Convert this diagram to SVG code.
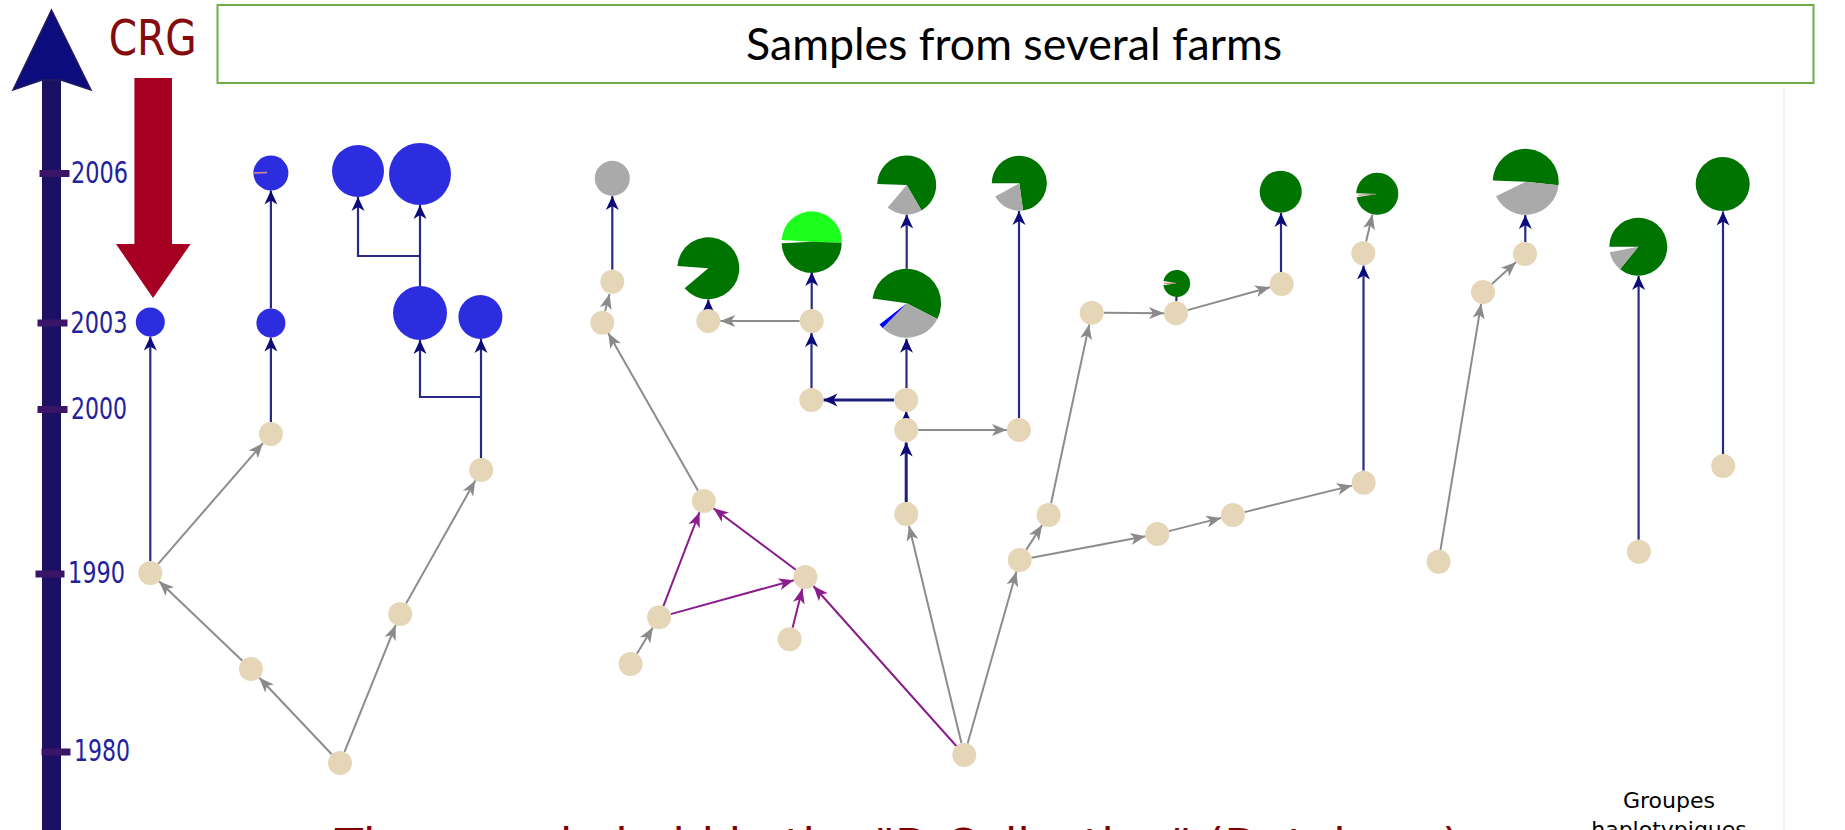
<svg xmlns="http://www.w3.org/2000/svg" width="1845" height="830" viewBox="0 0 1845 830">
<style>
.nb{fill:#e6d6b8}
.bl{fill:#2d2de0}
.gr{fill:#007400}
.gy{fill:#aaaaaa}
.lg{fill:#1cff1c}
.en{stroke:#2a2a86;stroke-width:2.2;fill:none;marker-end:url(#mn)}
.en0{stroke:#2a2a86;stroke-width:2.2;fill:none}
.enb{stroke:#1e1e80;stroke-width:3;fill:none;marker-end:url(#mn)}
.eg{stroke:#8c8c8c;stroke-width:2;fill:none;marker-end:url(#mg)}
.ep{stroke:#8a1c8c;stroke-width:2;fill:none;marker-end:url(#mp)}
.yr{font-family:"DejaVu Sans Condensed","DejaVu Sans",sans-serif;font-size:30px;fill:#22229c}
.tk{fill:#3a1468}
.cm{font-family:"Comic Sans MS","DejaVu Sans",sans-serif}
</style>
<defs>
<marker id="mn" markerUnits="userSpaceOnUse" markerWidth="18" markerHeight="16" viewBox="-16 -8 18 16" refX="0" refY="0" orient="auto"><path d="M0,0 L-14,-6.5 L-10,0 L-14,6.5 Z" fill="#0a0a7a"/></marker>
<marker id="mg" markerUnits="userSpaceOnUse" markerWidth="18" markerHeight="16" viewBox="-16 -8 18 16" refX="0" refY="0" orient="auto"><path d="M0,0 L-15,-6 L-11,0 L-15,6 Z" fill="#8a8a8a"/></marker>
<marker id="mp" markerUnits="userSpaceOnUse" markerWidth="18" markerHeight="16" viewBox="-16 -8 18 16" refX="0" refY="0" orient="auto"><path d="M0,0 L-15,-6 L-11,0 L-15,6 Z" fill="#8a1c8c"/></marker>
</defs>
<rect width="1845" height="830" fill="#ffffff"/>
<line x1="1784" y1="88" x2="1784" y2="830" stroke="#efefef" stroke-width="1.5"/>

<g id="time-axis">
<rect x="42" y="78" width="19" height="752" fill="#1b1062"/>
<polygon points="51.5,10 91,90 61,80 42,80 13,90" fill="#0c0c7c" stroke="#241a5e" stroke-width="1.5"/>
<rect class="tk" x="39.5" y="170" width="30" height="7"/>
<rect class="tk" x="37.5" y="319.5" width="30" height="7"/>
<rect class="tk" x="37.5" y="406" width="30" height="7"/>
<rect class="tk" x="35.5" y="570.5" width="29" height="7"/>
<rect class="tk" x="41.5" y="748.5" width="29" height="7"/>
<text class="yr" x="71" y="183" textLength="57" lengthAdjust="spacingAndGlyphs">2006</text>
<text class="yr" x="70.5" y="333" textLength="57" lengthAdjust="spacingAndGlyphs">2003</text>
<text class="yr" x="71" y="419" textLength="56" lengthAdjust="spacingAndGlyphs">2000</text>
<text class="yr" x="68" y="583" textLength="57" lengthAdjust="spacingAndGlyphs">1990</text>
<text class="yr" x="74" y="760.5" textLength="56" lengthAdjust="spacingAndGlyphs">1980</text>
</g>

<g id="crg">
<text class="cm" x="108.7" y="55" font-size="50" fill="#850c0c" textLength="88" lengthAdjust="spacingAndGlyphs">CRG</text>
<polygon points="134.4,78 172,78 172,244 190.6,244 153,298 116,244 134.4,244" fill="#a50021"/>
</g>

<g id="header">
<rect x="217.5" y="5" width="1596" height="78" fill="#ffffff" stroke="#70ad47" stroke-width="2"/>
<text x="746" y="60" font-family="Lato, 'Open Sans', sans-serif" font-size="45" fill="#000000" textLength="536" lengthAdjust="spacingAndGlyphs">Samples from several farms</text>
</g>

<g id="connectors">
<line class="eg" x1="331.7" y1="754.3" x2="259.3" y2="677.7"/>
<line class="eg" x1="242.3" y1="660.7" x2="159" y2="581.3"/>
<line class="eg" x1="158.2" y1="563.9" x2="263" y2="443.1"/>
<line class="eg" x1="344.5" y1="751.9" x2="395.7" y2="625.1"/>
<line class="eg" x1="406.1" y1="603.5" x2="475.3" y2="480.5"/>
<line class="eg" x1="636.9" y1="653.8" x2="652.8" y2="627.5"/>
<line class="eg" x1="697.9" y1="490.6" x2="608.2" y2="333.1"/>
<line class="eg" x1="605.1" y1="311" x2="609.5" y2="294"/>
<line class="eg" x1="799.7" y1="321" x2="720.3" y2="321"/>
<line class="eg" x1="918.2" y1="430" x2="1006.9" y2="430"/>
<line class="eg" x1="961.5" y1="743.3" x2="909" y2="525.7"/>
<line class="eg" x1="967.6" y1="743.5" x2="1016.4" y2="571.5"/>
<line class="eg" x1="1026.2" y1="549.9" x2="1042.1" y2="525.1"/>
<line class="eg" x1="1031.5" y1="557.8" x2="1145.5" y2="536.2"/>
<line class="eg" x1="1051.1" y1="503.3" x2="1089.2" y2="324.4"/>
<line class="eg" x1="1103.7" y1="312.8" x2="1164" y2="313.2"/>
<line class="eg" x1="1187.6" y1="310.1" x2="1270.1" y2="287.2"/>
<line class="eg" x1="1168.9" y1="531.1" x2="1221.3" y2="517.9"/>
<line class="eg" x1="1244.6" y1="512.1" x2="1352" y2="485.6"/>
<line class="eg" x1="1366.1" y1="241.6" x2="1372.5" y2="214.5"/>
<line class="eg" x1="1491.9" y1="283.9" x2="1516.1" y2="262.1"/>
<line class="eg" x1="1440.5" y1="549.9" x2="1481.1" y2="303.8"/>
<line class="ep" x1="956.3" y1="746" x2="813.4" y2="586"/>
<line class="ep" x1="670.7" y1="614.1" x2="793.8" y2="580.2"/>
<line class="ep" x1="663.4" y1="606.1" x2="699.5" y2="512.2"/>
<line class="ep" x1="795.8" y1="569.8" x2="713.4" y2="508.2"/>
<line class="ep" x1="792.6" y1="627.7" x2="802.4" y2="588.6"/>
<line class="en" x1="150.3" y1="561" x2="150.3" y2="336.5"/>
<line class="en" x1="270.9" y1="422" x2="270.9" y2="337.5"/>
<line class="en" x1="270.9" y1="308.5" x2="270.9" y2="190.5"/>
<line class="en" x1="420" y1="286" x2="420" y2="205"/>
<polyline class="en" points="420,256 358,256 358,197"/>
<line class="en" x1="481" y1="458" x2="481" y2="339"/>
<polyline class="en" points="481,397 420,397 420,340"/>
<line class="en" x1="612.3" y1="269.7" x2="612.3" y2="196"/>
<line class="en" x1="708.3" y1="309" x2="708.3" y2="299.5"/>
<line class="en" x1="811.7" y1="309" x2="811.7" y2="272"/>
<line class="en" x1="811.5" y1="388" x2="811.5" y2="333"/>
<line class="enb" x1="894.2" y1="400" x2="823.5" y2="400"/>
<line class="en" x1="906.5" y1="388" x2="906.5" y2="338.8"/>
<line class="en" x1="906.7" y1="268.8" x2="906.7" y2="214.5"/>
<line class="en" x1="906.2" y1="420" x2="906.2" y2="411"/>
<line class="enb" x1="906.2" y1="502" x2="906.2" y2="442.5"/>
<line class="en" x1="1019" y1="418" x2="1019" y2="211"/>
<line class="en0" x1="1176.3" y1="301.3" x2="1176.5" y2="296.8"/>
<line class="en" x1="1281" y1="272" x2="1281" y2="213"/>
<line class="en" x1="1363.5" y1="470.7" x2="1363.5" y2="265.5"/>
<line class="en" x1="1525.3" y1="242" x2="1525.3" y2="215"/>
<line class="en" x1="1638.6" y1="539.7" x2="1638.6" y2="276"/>
<line class="en" x1="1723" y1="454" x2="1723" y2="211.5"/>
</g>

<g id="blue-nodes">
<g id="A1"><circle class="bl" cx="150.3" cy="322" r="14.5"/></g>
<g id="B1"><circle class="bl" cx="270.9" cy="173" r="17.5"/><line x1="254" y1="173" x2="267" y2="172.5" stroke="#d89090" stroke-width="1.3"/></g>
<g id="B2"><circle class="bl" cx="270.9" cy="323" r="14.5"/></g>
<g id="C1"><circle class="bl" cx="358" cy="171" r="26"/></g>
<g id="C2"><circle class="bl" cx="420" cy="174" r="31"/></g>
<g id="C3"><circle class="bl" cx="420" cy="313" r="27"/></g>
<g id="C4"><circle class="bl" cx="480.4" cy="317" r="22"/></g>
</g>

<g id="pie-nodes">
<g id="G1"><circle class="gy" cx="612.3" cy="178.3" r="17.5"/></g>
<g id="P1"><path class="gr" d="M708.3,268.3 L677.4,266.1 A31,31 0 1 1 684.6,288.2 Z"/></g>
<g id="P2"><path class="lg" d="M811.7,241.7 L781.7,240.1 A30,30 0 0 1 841.7,242.7 Z"/><path class="gr" d="M811.7,241.7 L841.7,242.7 A30,30 0 0 1 781.7,243.3 Z"/></g>
<g id="P3"><path class="gr" d="M906.7,303.3 L872.5,298.5 A34.5,34.5 0 1 1 937.4,319 Z"/><path class="gy" d="M906.7,303.3 L937.4,319 A34.5,34.5 0 0 1 882.7,328.1 Z"/><path fill="#0000ff" d="M906.7,303.3 L882.7,328.1 A34.5,34.5 0 0 1 879.5,324.5 Z"/></g>
<g id="P4"><path class="gr" d="M906.7,185 L877.2,184 A29.5,29.5 0 1 1 921.5,210.5 Z"/><path class="gy" d="M906.7,185 L921.5,210.5 A29.5,29.5 0 0 1 887.7,207.6 Z"/></g>
<g id="P5"><path class="gr" d="M1019.3,183.3 L991.8,183.3 A27.5,27.5 0 1 1 1023.1,210.5 Z"/><path class="gy" d="M1019.3,183.3 L1023.1,210.5 A27.5,27.5 0 0 1 995.3,196.6 Z"/></g>
<g id="P6"><path class="gr" d="M1176.7,283.3 L1163.4,281 A13.5,13.5 0 1 1 1163.3,285.2 Z"/><line x1="1164" y1="283.3" x2="1175" y2="283.3" stroke="#b87070" stroke-width="1"/></g>
<g id="P7"><circle class="gr" cx="1280.7" cy="191.7" r="21"/></g>
<g id="P8"><path class="gr" d="M1377.3,194 L1356.3,193.3 A21,21 0 1 1 1356.6,197.3 Z"/><line x1="1358" y1="195.2" x2="1374" y2="194.5" stroke="#a08070" stroke-width="1"/></g>
<g id="P9"><path class="gr" d="M1525.7,181.7 L1492.7,180.5 A33,33 0 1 1 1558.5,185.2 Z"/><path class="gy" d="M1525.7,181.7 L1558.5,185.2 A33,33 0 0 1 1496,196.2 Z"/></g>
<g id="P10"><path class="gr" d="M1638.3,246.7 L1609.3,246.7 A29,29 0 1 1 1620,269.2 Z"/><path class="gy" d="M1638.3,246.7 L1620,269.2 A29,29 0 0 1 1609.8,252.2 Z"/></g>
<g id="P11"><circle class="gr" cx="1722.7" cy="184" r="27"/></g>
</g>

<g id="beige-nodes">
<g id="N1"><circle class="nb" cx="340" cy="763" r="12"/></g>
<g id="N2"><circle class="nb" cx="251" cy="669" r="12"/></g>
<g id="N3"><circle class="nb" cx="150.3" cy="573" r="12"/></g>
<g id="N4"><circle class="nb" cx="400.2" cy="614" r="12"/></g>
<g id="D"><circle class="nb" cx="481.2" cy="470" r="12"/></g>
<g id="B3"><circle class="nb" cx="270.9" cy="434" r="12"/></g>
<g id="E1"><circle class="nb" cx="612.3" cy="281.7" r="12"/></g>
<g id="E2"><circle class="nb" cx="602.3" cy="322.7" r="12"/></g>
<g id="E3"><circle class="nb" cx="708.3" cy="321" r="12"/></g>
<g id="Q"><circle class="nb" cx="811.7" cy="321" r="12"/></g>
<g id="R"><circle class="nb" cx="811.3" cy="400" r="12"/></g>
<g id="S"><circle class="nb" cx="906.2" cy="400" r="12"/></g>
<g id="U"><circle class="nb" cx="906.2" cy="430" r="12"/></g>
<g id="V"><circle class="nb" cx="906.2" cy="514" r="12"/></g>
<g id="T"><circle class="nb" cx="1018.9" cy="430" r="12"/></g>
<g id="P"><circle class="nb" cx="703.8" cy="501" r="12"/></g>
<g id="X"><circle class="nb" cx="805.4" cy="577" r="12"/></g>
<g id="Y"><circle class="nb" cx="659.1" cy="617.3" r="12"/></g>
<g id="Z"><circle class="nb" cx="630.6" cy="664" r="12"/></g>
<g id="AA"><circle class="nb" cx="789.6" cy="639.3" r="12"/></g>
<g id="W"><circle class="nb" cx="964.3" cy="755" r="12"/></g>
<g id="AB"><circle class="nb" cx="1048.6" cy="515" r="12"/></g>
<g id="AC"><circle class="nb" cx="1019.7" cy="560" r="12"/></g>
<g id="AD"><circle class="nb" cx="1157.3" cy="534" r="12"/></g>
<g id="AE"><circle class="nb" cx="1091.7" cy="312.7" r="12"/></g>
<g id="AF"><circle class="nb" cx="1176" cy="313.3" r="12"/></g>
<g id="AG"><circle class="nb" cx="1281.7" cy="284" r="12"/></g>
<g id="AH"><circle class="nb" cx="1363.3" cy="253.3" r="12"/></g>
<g id="AI"><circle class="nb" cx="1363.7" cy="482.7" r="12"/></g>
<g id="AJ"><circle class="nb" cx="1232.9" cy="515" r="12"/></g>
<g id="AK"><circle class="nb" cx="1525" cy="254" r="12"/></g>
<g id="AL"><circle class="nb" cx="1483" cy="292" r="12"/></g>
<g id="AM"><circle class="nb" cx="1438.6" cy="561.7" r="12"/></g>
<g id="AN"><circle class="nb" cx="1638.9" cy="551.7" r="12"/></g>
<g id="AO"><circle class="nb" cx="1723.2" cy="466" r="12"/></g>
</g>

<g id="footer-texts">
<text class="cm" x="335" y="864" font-size="50" fill="#800000" textLength="1125" lengthAdjust="spacingAndGlyphs">The sample held in the "D Collection" (Database)</text>
<text class="cm" x="1669" y="808" font-size="22" fill="#000000" text-anchor="middle">Groupes</text>
<text class="cm" x="1669" y="837" font-size="22" fill="#000000" text-anchor="middle">haplotypiques</text>
</g>
</svg>
